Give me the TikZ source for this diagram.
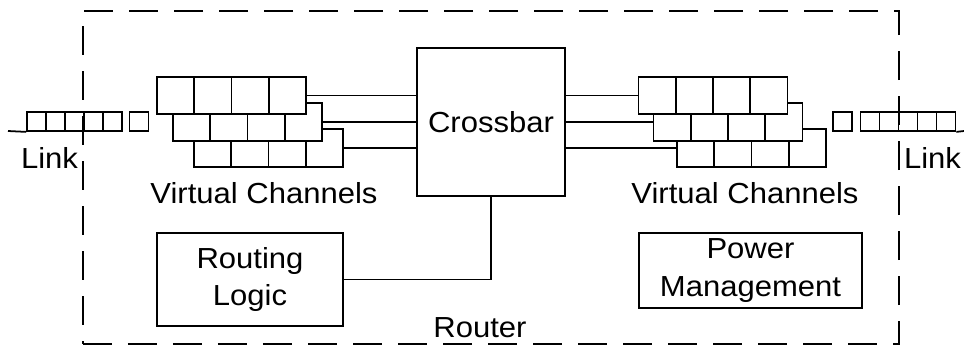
\documentclass[tikz,border=0pt]{standalone}
\usepackage{fontspec}
\setmainfont[FakeStretch=1.07]{Liberation Sans}
\usetikzlibrary{calc,positioning}

\begin{document}
\begin{tikzpicture}[
    x=0.2mm, y=-0.2mm,
    line width=1pt,
    font=\fontsize{16.5}{21.6}\selectfont,
    cells/.style={path picture={
        \foreach \k in {1,...,#1}
          \draw ($(path picture bounding box.south west)!{\k/(#1+1)}!(path picture bounding box.south east)$)
             -- ($(path picture bounding box.north west)!{\k/(#1+1)}!(path picture bounding box.north east)$);}},
    vcrow/.style={draw, fill=white, inner sep=0pt, minimum width=29.8mm, minimum height=7.5mm, cells=3},
    linkq/.style={draw, inner sep=0pt, minimum width=19mm, minimum height=3.8mm, cells=4},
    flit/.style={draw, inner sep=0pt, minimum size=3.8mm},
    block/.style={draw, align=center, inner sep=0pt},
    frame/.style={draw, dash pattern=on 5.8mm off 3.2mm, inner sep=0pt, minimum width=163.2mm, minimum height=66.6mm},
    lbl/.style={inner sep=0pt, anchor=base}
]
\useasboundingbox (0,0) rectangle (964,345);

\node[frame] (router) at (491,177.5) {};

% input link
\coordinate (linkltail) at (8,131);
\node[linkq] (linkl) at (74.5,121.5) {};
\node[flit] (flitl) at (139,121.5) {};
\draw (linkltail) -- (linkl.south west);

% input virtual channels
\node[vcrow] (vcl3) at (268.5,148) {};
\node[vcrow] (vcl2) at (247.5,122) {};
\node[vcrow] (vcl1) at (231.5,95.5) {};

\node[block, minimum width=29.6mm, minimum height=29.6mm] (xbar) at (491,122) {Crossbar};

% output virtual channels
\node[vcrow] (vcr3) at (751.5,148) {};
\node[vcrow] (vcr2) at (728,122) {};
\node[vcrow] (vcr1) at (713,95.5) {};

% output link
\coordinate (linkrtail) at (964,131);
\node[flit] (flitr) at (842.5,121.5) {};
\node[linkq] (linkr) at (908,121.5) {};
\draw (linkr.south east) -- (linkrtail);

\node[block, minimum width=37.2mm, minimum height=18.6mm] (routing) at (250,279.5) {Routing\\Logic};
\node[block, minimum width=44.6mm, minimum height=15mm] (power) at (750.5,270.5) {Power\\Management};

\foreach \r in {1,2,3} {
  \draw (vcl\r.east) -- (vcl\r.east -| xbar.west);
  \draw (xbar.east |- vcr\r.west) -- (vcr\r.west);
}
\draw (routing.east) -| (xbar.south);

\node[lbl] (linkllbl) at (49.5,168) {Link};
\node[lbl] (linkrlbl) at (932.5,168) {Link};
\node[lbl] (vcllbl) at (264,203) {Virtual Channels};
\node[lbl] (vcrlbl) at (745,203) {Virtual Channels};
\node[lbl] (routerlbl) at (480,337) {Router};
\end{tikzpicture}
\end{document}
